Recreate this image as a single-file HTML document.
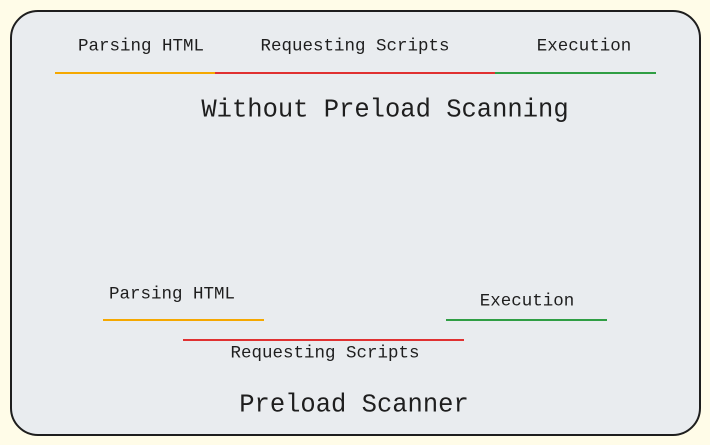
<!DOCTYPE html>
<html><head><meta charset="utf-8"><style>
html,body{margin:0;padding:0;background:#fffce8;}
svg{display:block}
text{font-family:"Liberation Mono","DejaVu Sans Mono",monospace;fill:#1e1e1e;}
</style></head><body>
<svg width="710" height="445" viewBox="0 0 710 445">
<rect x="0" y="0" width="710" height="445" fill="#fffce8"/>
<rect x="11" y="11" width="689" height="424" rx="27" fill="#e9ecef" stroke="#1e1e1e" stroke-width="2"/>
<g font-size="17.5" text-anchor="middle" dominant-baseline="central">
<text x="141" y="46.5">Parsing HTML</text>
<text x="355" y="46.5">Requesting Scripts</text>
<text x="584" y="46.5">Execution</text>
<text x="172" y="294.5">Parsing HTML</text>
<text x="527" y="301.5">Execution</text>
<text x="325" y="353.5">Requesting Scripts</text>
</g>
<g font-size="25.5" text-anchor="middle" dominant-baseline="central">
<text x="385" y="110">Without Preload Scanning</text>
<text x="354" y="405">Preload Scanner</text>
</g>
<g stroke-width="2">
<line x1="55" y1="73" x2="215" y2="73" stroke="#f5a800"/>
<line x1="215" y1="73" x2="495" y2="73" stroke="#e03131"/>
<line x1="495" y1="73" x2="656" y2="73" stroke="#2f9e44"/>
<line x1="103" y1="320" x2="264" y2="320" stroke="#f5a800"/>
<line x1="183" y1="340" x2="464" y2="340" stroke="#e03131"/>
<line x1="446" y1="320" x2="607" y2="320" stroke="#2f9e44"/>
</g>
</svg>
</body></html>
